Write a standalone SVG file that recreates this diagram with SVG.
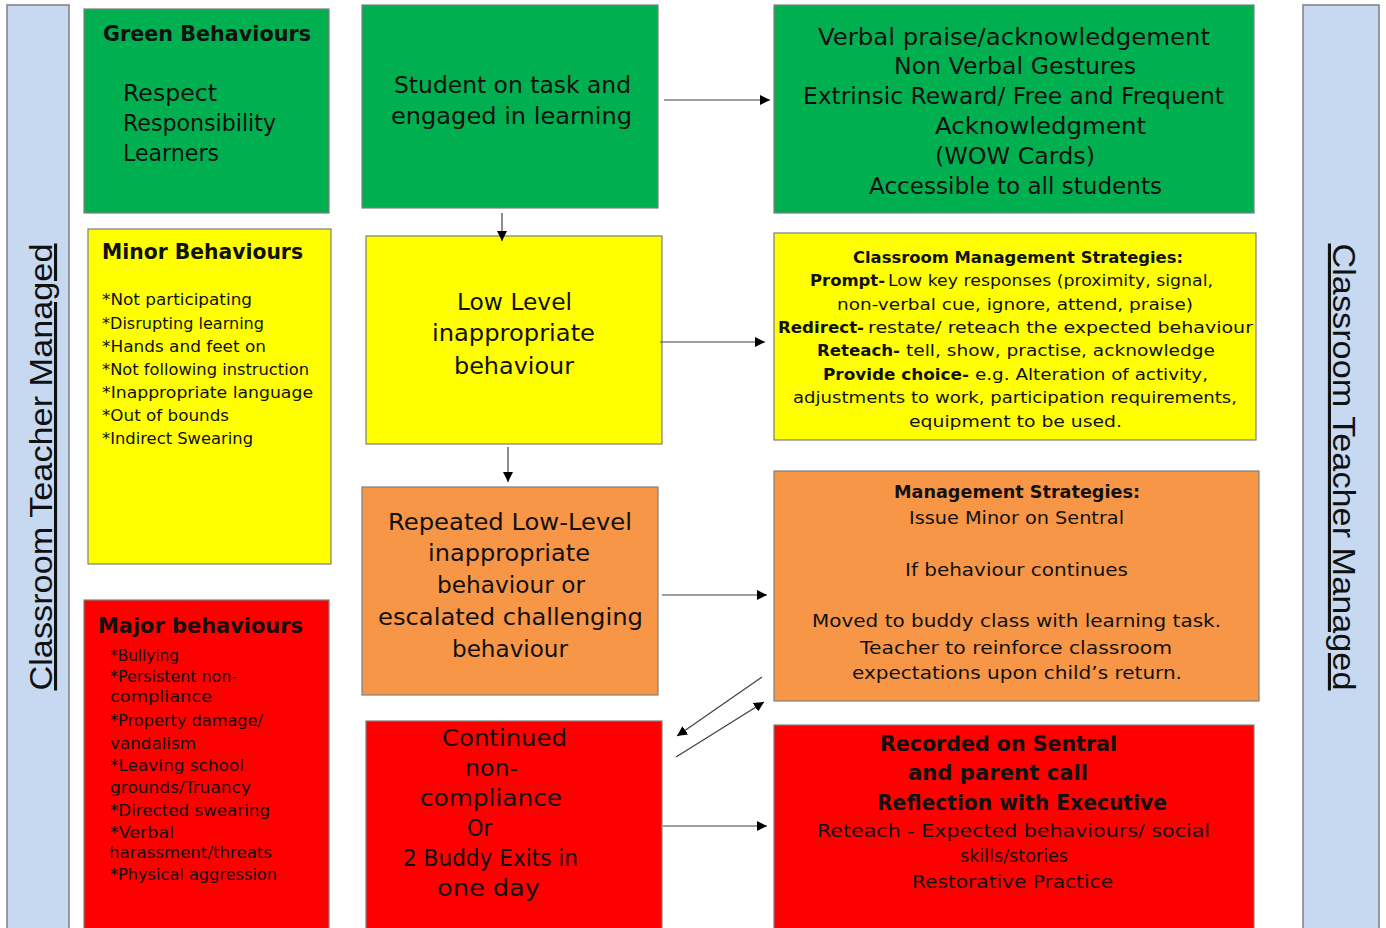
<svg xmlns="http://www.w3.org/2000/svg" width="1386" height="928" viewBox="0 0 1386 928">
<style>
  .box { stroke: #7f7f7f; stroke-width: 1.2; }
  .g { fill: #00b050; }
  .y { fill: #ffff00; }
  .o { fill: #f79646; }
  .r { fill: #ff0000; }
  .strip { fill: #c6d9f1; stroke: #7f7f7f; stroke-width: 1.5; }
  text { font-family: "DejaVu Sans", "Liberation Sans", sans-serif; fill: #111; }
  .b { font-weight: bold; }
  .big { font-size: 23px; }
  .t21 { font-size: 21px; }
  .t16 { font-size: 15.5px; }
  .cm { font-size: 16px; }
  .ms { font-size: 17.5px; }
  .rc { font-size: 18.5px; }
  .side { font-family: "Liberation Sans", Arial, sans-serif; font-size: 31px; text-decoration: underline; }
  .conn line { stroke: #404040; stroke-width: 1.2; fill: none; marker-end: url(#ah); }
</style>
<defs>
  <marker id="ah" viewBox="0 0 10 10" refX="10" refY="5" markerWidth="10" markerHeight="10" markerUnits="userSpaceOnUse" orient="auto">
    <path d="M0,0 L10,5 L0,10 z" fill="#000"/>
  </marker>
</defs>
<rect width="1386" height="928" fill="#ffffff"/>

<g id="strip-left">
  <rect class="strip" x="7" y="5" width="62" height="930"/>
  <text class="side" transform="translate(52,467) rotate(-90)" text-anchor="middle" textLength="447" lengthAdjust="spacingAndGlyphs">Classroom Teacher Managed</text>
</g>
<g id="strip-right">
  <rect class="strip" x="1303" y="5" width="76" height="930"/>
  <text class="side" transform="translate(1333,467) rotate(90)" text-anchor="middle" textLength="447" lengthAdjust="spacingAndGlyphs">Classroom Teacher Managed</text>
</g>

<g id="green-behaviours">
  <rect class="box g" x="84" y="9" width="245" height="204"/>
  <text class="b t21" x="103" y="41" textLength="208" lengthAdjust="spacingAndGlyphs">Green Behaviours</text>
  <text class="big" x="123" y="101" textLength="94" lengthAdjust="spacingAndGlyphs">Respect</text>
  <text class="big" x="123" y="131" textLength="153" lengthAdjust="spacingAndGlyphs">Responsibility</text>
  <text class="big" x="123" y="161" textLength="96" lengthAdjust="spacingAndGlyphs">Learners</text>
</g>

<g id="minor-behaviours">
  <rect class="box y" x="88" y="229" width="243" height="335"/>
  <text class="b t21" x="102" y="259" textLength="201" lengthAdjust="spacingAndGlyphs">Minor Behaviours</text>
  <text class="t16" x="102" y="305" textLength="150" lengthAdjust="spacingAndGlyphs">*Not participating</text>
  <text class="t16" x="102" y="329" textLength="162" lengthAdjust="spacingAndGlyphs">*Disrupting learning</text>
  <text class="t16" x="102" y="352" textLength="164" lengthAdjust="spacingAndGlyphs">*Hands and feet on</text>
  <text class="t16" x="102" y="375" textLength="207" lengthAdjust="spacingAndGlyphs">*Not following instruction</text>
  <text class="t16" x="102" y="398" textLength="211" lengthAdjust="spacingAndGlyphs">*Inappropriate language</text>
  <text class="t16" x="102" y="421" textLength="127" lengthAdjust="spacingAndGlyphs">*Out of bounds</text>
  <text class="t16" x="102" y="444" textLength="151" lengthAdjust="spacingAndGlyphs">*Indirect Swearing</text>
</g>

<g id="major-behaviours">
  <rect class="box r" x="84" y="600" width="245" height="335"/>
  <text class="b t21" x="98" y="633" textLength="205" lengthAdjust="spacingAndGlyphs">Major behaviours</text>
  <text class="t16" x="110" y="661" textLength="69" lengthAdjust="spacingAndGlyphs">*Bullying</text>
  <text class="t16" x="110" y="682" textLength="127" lengthAdjust="spacingAndGlyphs">*Persistent non-</text>
  <text class="t16" x="110" y="702" textLength="102" lengthAdjust="spacingAndGlyphs">compliance</text>
  <text class="t16" x="110" y="726" textLength="153" lengthAdjust="spacingAndGlyphs">*Property damage/</text>
  <text class="t16" x="110" y="749" textLength="86" lengthAdjust="spacingAndGlyphs">vandalism</text>
  <text class="t16" x="110" y="771" textLength="134" lengthAdjust="spacingAndGlyphs">*Leaving school</text>
  <text class="t16" x="110" y="793" textLength="141" lengthAdjust="spacingAndGlyphs">grounds/Truancy</text>
  <text class="t16" x="110" y="816" textLength="160" lengthAdjust="spacingAndGlyphs">*Directed swearing</text>
  <text class="t16" x="110" y="838" textLength="64" lengthAdjust="spacingAndGlyphs">*Verbal</text>
  <text class="t16" x="109" y="858" textLength="163" lengthAdjust="spacingAndGlyphs">harassment/threats</text>
  <text class="t16" x="110" y="880" textLength="167" lengthAdjust="spacingAndGlyphs">*Physical aggression</text>
</g>

<g id="student-on-task">
  <rect class="box g" x="362" y="5" width="296" height="203"/>
  <text class="big" x="394" y="93" textLength="237" lengthAdjust="spacingAndGlyphs">Student on task and</text>
  <text class="big" x="391" y="124" textLength="241" lengthAdjust="spacingAndGlyphs">engaged in learning</text>
</g>

<g id="verbal-praise">
  <rect class="box g" x="774" y="5" width="480" height="208"/>
  <text class="big" x="818" y="45" textLength="392" lengthAdjust="spacingAndGlyphs">Verbal praise/acknowledgement</text>
  <text class="big" x="894" y="74" textLength="242" lengthAdjust="spacingAndGlyphs">Non Verbal Gestures</text>
  <text class="big" x="803" y="104" textLength="421" lengthAdjust="spacingAndGlyphs">Extrinsic Reward/ Free and Frequent</text>
  <text class="big" x="935" y="134" textLength="211" lengthAdjust="spacingAndGlyphs">Acknowledgment</text>
  <text class="big" x="935" y="164" textLength="160" lengthAdjust="spacingAndGlyphs">(WOW Cards)</text>
  <text class="big" x="869" y="194" textLength="293" lengthAdjust="spacingAndGlyphs">Accessible to all students</text>
</g>

<g id="low-level">
  <rect class="box y" x="366" y="236" width="296" height="208"/>
  <text class="big" x="457" y="310" textLength="115" lengthAdjust="spacingAndGlyphs">Low Level</text>
  <text class="big" x="432" y="341" textLength="163" lengthAdjust="spacingAndGlyphs">inappropriate</text>
  <text class="big" x="454" y="374" textLength="120" lengthAdjust="spacingAndGlyphs">behaviour</text>
</g>

<g id="classroom-management">
  <rect class="box y" x="774" y="233" width="482" height="207"/>
  <text class="cm b" x="853" y="263" textLength="330" lengthAdjust="spacingAndGlyphs">Classroom Management Strategies:</text>
  <text class="cm b" x="810" y="286" textLength="75" lengthAdjust="spacingAndGlyphs">Prompt-</text>
  <text class="cm" x="888" y="286" textLength="325" lengthAdjust="spacingAndGlyphs">Low key responses (proximity, signal,</text>
  <text class="cm" x="837" y="310" textLength="356" lengthAdjust="spacingAndGlyphs">non-verbal cue, ignore, attend, praise)</text>
  <text class="cm b" x="778" y="333" textLength="86" lengthAdjust="spacingAndGlyphs">Redirect-</text>
  <text class="cm" x="868" y="333" textLength="385" lengthAdjust="spacingAndGlyphs">restate/ reteach the expected behaviour</text>
  <text class="cm b" x="817" y="356" textLength="83" lengthAdjust="spacingAndGlyphs">Reteach-</text>
  <text class="cm" x="906" y="356" textLength="309" lengthAdjust="spacingAndGlyphs">tell, show, practise, acknowledge</text>
  <text class="cm b" x="823" y="380" textLength="146" lengthAdjust="spacingAndGlyphs">Provide choice-</text>
  <text class="cm" x="975" y="380" textLength="233" lengthAdjust="spacingAndGlyphs">e.g. Alteration of activity,</text>
  <text class="cm" x="793" y="403" textLength="444" lengthAdjust="spacingAndGlyphs">adjustments to work, participation requirements,</text>
  <text class="cm" x="909" y="427" textLength="213" lengthAdjust="spacingAndGlyphs">equipment to be used.</text>
</g>

<g id="repeated-low-level">
  <rect class="box o" x="362" y="487" width="296" height="208"/>
  <text class="big" x="388" y="530" textLength="244" lengthAdjust="spacingAndGlyphs">Repeated Low-Level</text>
  <text class="big" x="428" y="561" textLength="162" lengthAdjust="spacingAndGlyphs">inappropriate</text>
  <text class="big" x="437" y="593" textLength="148" lengthAdjust="spacingAndGlyphs">behaviour or</text>
  <text class="big" x="378" y="625" textLength="265" lengthAdjust="spacingAndGlyphs">escalated challenging</text>
  <text class="big" x="452" y="657" textLength="116" lengthAdjust="spacingAndGlyphs">behaviour</text>
</g>

<g id="management-strategies">
  <rect class="box o" x="774" y="471" width="485" height="230"/>
  <text class="ms b" x="894" y="498" textLength="246" lengthAdjust="spacingAndGlyphs">Management Strategies:</text>
  <text class="ms" x="909" y="524" textLength="215" lengthAdjust="spacingAndGlyphs">Issue Minor on Sentral</text>
  <text class="ms" x="905" y="576" textLength="223" lengthAdjust="spacingAndGlyphs">If behaviour continues</text>
  <text class="ms" x="812" y="627" textLength="409" lengthAdjust="spacingAndGlyphs">Moved to buddy class with learning task.</text>
  <text class="ms" x="860" y="654" textLength="312" lengthAdjust="spacingAndGlyphs">Teacher to reinforce classroom</text>
  <text class="ms" x="852" y="679" textLength="330" lengthAdjust="spacingAndGlyphs">expectations upon child’s return.</text>
</g>

<g id="continued-non-compliance">
  <rect class="box r" x="366" y="721" width="296" height="214"/>
  <text class="big" x="442" y="746" textLength="125" lengthAdjust="spacingAndGlyphs">Continued</text>
  <text class="big" x="465" y="776" textLength="53" lengthAdjust="spacingAndGlyphs">non-</text>
  <text class="big" x="420" y="806" textLength="142" lengthAdjust="spacingAndGlyphs">compliance</text>
  <text class="big" x="467" y="836" textLength="25" lengthAdjust="spacingAndGlyphs">Or</text>
  <text class="big" x="403" y="866" textLength="175" lengthAdjust="spacingAndGlyphs">2 Buddy Exits in</text>
  <text class="big" x="437" y="896" textLength="103" lengthAdjust="spacingAndGlyphs">one day</text>
</g>

<g id="recorded-on-sentral">
  <rect class="box r" x="774" y="725" width="480" height="210"/>
  <text class="t21 b" x="880" y="751" textLength="237" lengthAdjust="spacingAndGlyphs">Recorded on Sentral</text>
  <text class="t21 b" x="908" y="780" textLength="180" lengthAdjust="spacingAndGlyphs">and parent call</text>
  <text class="t21 b" x="877" y="810" textLength="290" lengthAdjust="spacingAndGlyphs">Reflection with Executive</text>
  <text class="rc" x="817" y="837" textLength="393" lengthAdjust="spacingAndGlyphs">Reteach - Expected behaviours/ social</text>
  <text class="rc" x="960" y="862" textLength="108" lengthAdjust="spacingAndGlyphs">skills/stories</text>
  <text class="rc" x="912" y="888" textLength="201" lengthAdjust="spacingAndGlyphs">Restorative Practice</text>
</g>

<g id="connectors" class="conn">
  <line x1="664" y1="100" x2="770" y2="100"/>
  <line x1="502" y1="213" x2="502" y2="241"/>
  <line x1="660" y1="342" x2="765" y2="342"/>
  <line x1="508" y1="447" x2="508" y2="482"/>
  <line x1="662" y1="595" x2="767" y2="595"/>
  <line x1="762" y1="677" x2="677" y2="736"/>
  <line x1="676" y1="757" x2="764" y2="702"/>
  <line x1="663" y1="826" x2="767" y2="826"/>
</g>
</svg>
